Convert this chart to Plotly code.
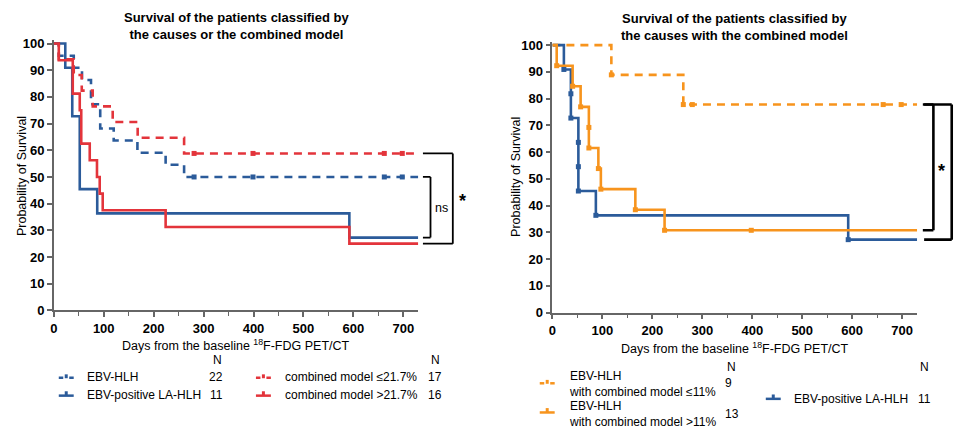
import plotly.graph_objects as go
from plotly.subplots import make_subplots

W, H = 955, 437

# ---------------- data ----------------
# Left panel
t_ebv_hlh = [0, 10, 40, 56.5, 74.5, 93, 120, 167.5, 224, 261, 730]
s_ebv_hlh = [100, 95.45, 90.91, 86.36, 77.27, 68.18, 63.64, 59.09, 54.55, 50.0, 50.0]
cens_t_ebv_hlh = [281, 399, 662, 698]
cens_s_ebv_hlh = [50.0, 50.0, 50.0, 50.0]

t_la_hlh = [0, 23, 37, 52, 87, 592, 730]
s_la_hlh = [100, 90.91, 72.73, 45.45, 36.36, 27.27, 27.27]

t_cm_low = [0, 10, 40, 56, 78, 118, 168, 261, 730]
s_cm_low = [100, 94.12, 88.24, 82.35, 76.47, 70.59, 64.71, 58.82, 58.82]
cens_t_cm_low = [281, 399, 662, 698]
cens_s_cm_low = [58.82, 58.82, 58.82, 58.82]

t_cm_high = [0, 10, 38, 52, 55, 72, 86.5, 92, 98, 224, 592, 730]
s_cm_high = [100, 93.75, 81.25, 75.0, 62.5, 56.25, 50.0, 43.75, 37.5, 31.25, 25.0, 25.0]

# Right panel
t_low11 = [0, 118, 262, 730]
s_low11 = [100, 88.89, 77.78, 77.78]
mk_t_low11 = [118, 262, 280, 662, 698]
mk_s_low11 = [88.89, 77.78, 77.78, 77.78, 77.78]

t_high11 = [0, 8.6, 40.5, 56.5, 73, 92, 97, 166, 224.5, 730]
s_high11 = [100, 92.31, 84.62, 76.92, 61.54, 53.85, 46.15, 38.46, 30.77, 30.77]
mk_t_high11 = [8.6, 40.5, 56.5, 73, 73, 92, 97, 166, 224.5, 398]
mk_s_high11 = [92.31, 84.62, 76.92, 69.23, 61.54, 53.85, 46.15, 38.46, 30.77, 30.77]

mk_t_la = [23, 37, 37, 52, 52, 52, 87, 592]
mk_s_la = [90.91, 81.82, 72.73, 63.64, 54.55, 45.45, 36.36, 27.27]

x_ticks = [0, 100, 200, 300, 400, 500, 600, 700]
x_minor = [50, 150, 250, 350, 450, 550, 650]
y_ticks = [0, 10, 20, 30, 40, 50, 60, 70, 80, 90, 100]

left_legend = [("EBV-HLH", "22", "blue", True), ("EBV-positive LA-HLH", "11", "blue", False)]
left_legend2 = [("combined model ≤21.7%", "17", "red", True), ("combined model >21.7%", "16", "red", False)]

BLUE = "#2B5B9A"
RED = "#E3343B"
ORANGE = "#F7941D"
AX = "#666666"
FONT = "Liberation Sans, Arial, sans-serif"
COL = {"blue": BLUE, "red": RED, "orange": ORANGE}

fig = make_subplots(rows=1, cols=2)

def step(t, s, color, dash, col):
    fig.add_trace(go.Scatter(x=t, y=s, mode="lines", line=dict(color=color, width=2.6, dash=dash, shape="hv"),
                             showlegend=False, hoverinfo="skip"), row=1, col=col)

def marks(t, s, color, col, size=5):
    fig.add_trace(go.Scatter(x=t, y=s, mode="markers", marker=dict(color=color, symbol="square", size=size),
                             showlegend=False, hoverinfo="skip", cliponaxis=False), row=1, col=col)

DASH = "8px,6px"
step(t_ebv_hlh, s_ebv_hlh, BLUE, DASH, 1)
step(t_cm_low, s_cm_low, RED, DASH, 1)
step(t_la_hlh, s_la_hlh, BLUE, "solid", 1)
step(t_cm_high, s_cm_high, RED, "solid", 1)
marks(cens_t_ebv_hlh, cens_s_ebv_hlh, BLUE, 1)
marks(cens_t_cm_low, cens_s_cm_low, RED, 1)

step(t_low11, s_low11, ORANGE, DASH, 2)
step(t_la_hlh, s_la_hlh, BLUE, "solid", 2)
step(t_high11, s_high11, ORANGE, "solid", 2)
marks(mk_t_la, mk_s_la, BLUE, 2)
marks(mk_t_low11, mk_s_low11, ORANGE, 2)
marks(mk_t_high11, mk_s_high11, ORANGE, 2)

tickfont = dict(family=FONT, size=13, color="black", weight="bold")
for i, (xd, yd) in enumerate([([50 / W, 416 / W], [1 - 315 / H, 1 - 37.4 / H]),
                              ([550.7 / W, 917 / W], [1 - 317.3 / H, 1 - 39 / H])], start=1):
    fig.update_xaxes(range=[0, 730], domain=xd, tickvals=x_ticks, ticks="outside", ticklen=5, tickwidth=1.5,
                     tickcolor=AX, showline=True, linecolor=AX, linewidth=1.5, showgrid=False, zeroline=False,
                     tickfont=tickfont,
                     minor=dict(tickvals=x_minor, ticks="outside", ticklen=4, tickwidth=1.2, tickcolor=AX),
                     row=1, col=i)
    fig.update_yaxes(range=[0, 101.2], domain=yd, tickvals=y_ticks, ticks="outside", ticklen=5, tickwidth=1.5,
                     tickcolor=AX, showline=True, linecolor=AX, linewidth=1.5, showgrid=False, zeroline=False,
                     tickfont=tickfont, row=1, col=i)

def px(x):
    return x / W

def py(y):
    return 1 - y / H

ann = []
def text(x, y, s, size=12, xanchor="center", yanchor="middle", bold=False, angle=0):
    ann.append(dict(x=px(x), y=py(y), xref="paper", yref="paper", text=s, showarrow=False,
                    xanchor=xanchor, yanchor=yanchor, textangle=angle, align=xanchor,
                    font=dict(family=FONT, size=size, color="black", weight="bold" if bold else "normal")))

# titles
text(233, 23, "Survival of the patients classified by<br>the causes or the combined model", 13, bold=True)
text(734, 24, "Survival of the patients classified by<br>the causes with the combined model", 13, bold=True)
# axis titles
text(233, 351, "Days from the baseline <sup>18</sup>F-FDG PET/CT", 12.5)
text(734, 353.5, "Days from the baseline <sup>18</sup>F-FDG PET/CT", 12.5)
text(18, 177, "Probability of Survival", 12.5, angle=-90)
text(514, 178, "Probability of Survival", 12.5, angle=-90)

shapes = []
def seg(x0, y0, x1, y1, color="black", width=2, yref="paper"):
    shapes.append(dict(type="line", xref="paper", yref=yref, x0=px(x0), x1=px(x1),
                       y0=(py(y0) if yref == "paper" else y0), y1=(py(y1) if yref == "paper" else y1),
                       line=dict(color=color, width=width)))

def icon(x0, y, color, dashed):
    if dashed:
        seg(x0, y, x0 + 4.5, y, color, 2.5)
        seg(x0 + 10.5, y, x0 + 15, y, color, 2.5)
        shapes.append(dict(type="rect", xref="paper", yref="paper", x0=px(x0 + 6), x1=px(x0 + 9),
                           y0=py(y + 0.5), y1=py(y - 3.5), fillcolor=color, line=dict(width=0)))
    else:
        seg(x0, y, x0 + 15, y, color, 2.5)
        shapes.append(dict(type="rect", xref="paper", yref="paper", x0=px(x0 + 6), x1=px(x0 + 9),
                           y0=py(y), y1=py(y - 4.5), fillcolor=color, line=dict(width=0)))

# left legend
text(214, 366, "N", 12)
text(433, 366, "N", 12)
for (lab, n, c, d), y in zip(left_legend, [383.3, 401.7]):
    icon(55, y + 1, COL[c], d)
    text(81, y, lab, 12, xanchor="left")
    text(213, y, n, 12)
for (lab, n, c, d), y in zip(left_legend2, [383.3, 401.7]):
    icon(253, y + 1, COL[c], d)
    text(280, y, lab, 12, xanchor="left")
    text(433, y, n, 12)

# right legend
text(730.7, 373.3, "N", 12)
text(924, 373.3, "N", 12)
icon(538, 390, ORANGE, True)
text(565, 390.8, "EBV-HLH<br>with combined model ≤11%", 12, xanchor="left")
text(728, 390, "9", 12)
icon(538, 420, ORANGE, False)
text(565, 422, "EBV-HLH<br>with combined model >11%", 12, xanchor="left")
text(731, 421.7, "13", 12)
icon(765, 406, BLUE, False)
text(791.7, 405.7, "EBV-positive LA-HLH", 12, xanchor="left")
text(924, 405.7, "11", 12)

# significance brackets, y in data units of each y axis
def bracket(xa, xb, ya, yb, yref, width=2):
    seg(xa, ya, xb, ya, "black", width, yref)
    seg(xb, ya, xb, yb, "black", width, yref)
    seg(xa, yb, xb, yb, "black", width, yref)

bracket(420.7, 428.3, 50.0, 27.27, "y", 1.8)
bracket(420.7, 450.7, 58.82, 25.0, "y", 1.8)
bracket(922.7, 933.3, 77.78, 30.77, "y2", 2.6)
bracket(924.0, 951.7, 77.78, 27.27, "y2", 2.6)
text(439, 210, "ns", 12.5)
text(460, 203, "*", 18, bold=True)
text(941.7, 172, "*", 18, bold=True)

fig.update_layout(width=W, height=H, margin=dict(l=0, r=0, t=0, b=0), paper_bgcolor="white",
                  plot_bgcolor="white", annotations=ann, shapes=shapes, showlegend=False,
                  font=dict(family=FONT))
fig.write_html("out.html")
